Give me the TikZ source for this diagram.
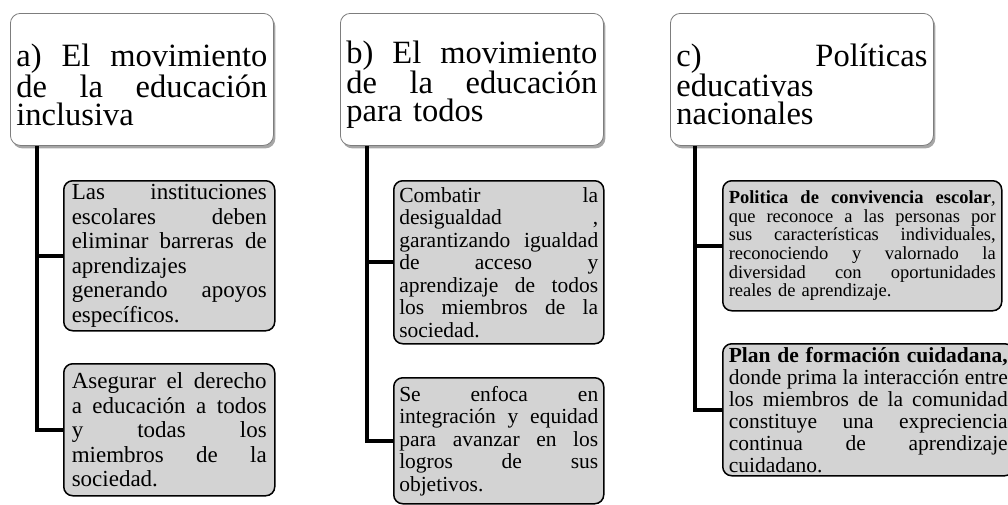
\documentclass[tikz,border=0pt]{standalone}
\usepackage{fontspec}
\setmainfont{Liberation Serif}
\usetikzlibrary{shadows}
\setlength{\parindent}{0pt}
\setlength{\lineskiplimit}{-100pt}

\definecolor{leafgray}{RGB}{211,211,211}
\definecolor{edgegray}{RGB}{125,125,125}

% one justified line of a box
\newcommand{\jl}[1]{\leavevmode\hbox to\linewidth{\spaceskip=.25em plus 1fil\relax #1}}
% pushes the header text a bit down
\newcommand{\hdtop}{\rule{0pt}{33pt}}

\tikzset{
	headbox/.style={draw=edgegray,line width=0.8pt,fill=white,rounded corners=10pt,
		drop shadow={shadow xshift=2pt,shadow yshift=-3pt,opacity=0.35,fill=black},
		anchor=north west,text width=251pt,inner xsep=6pt,inner ysep=0pt,
		minimum height=132pt,font=\fontsize{32.5}{28}\selectfont},
	leafbox/.style={draw=black,line width=1.5pt,fill=leafgray,rounded corners=9pt,
		anchor=north west,inner ysep=1pt},
	leafa/.style={leafbox,text width=195pt,inner xsep=8pt,font=\fontsize{23}{24.5}\selectfont},
	leafb/.style={leafbox,text width=199pt,inner xsep=5.5pt,font=\fontsize{21.5}{22.5}\selectfont},
	leafc/.style={leafbox,text width=267pt,inner xsep=6pt,font=\fontsize{18.5}{18.6}\selectfont},
	leafd/.style={leafbox,text width=279pt,inner xsep=6pt,font=\fontsize{21.5}{22}\selectfont},
	branch/.style={line width=4pt,black}
}

\begin{document}
\begin{tikzpicture}[x=1pt,y=-1pt]
	\useasboundingbox (0,0) rectangle (1008,504);

	%headers
	\node[headbox] (hda) at ( 10,13) {\hdtop\jl{a) El movimiento}\\ \jl{de la educación}\\ inclusiva};
	\node[headbox] (hdb) at (340,13) {\hdtop\jl{b) El movimiento}\\ \jl{de la educación}\\ para todos};
	\node[headbox] (hdc) at (670,13) {\hdtop\jl{c) Políticas}\\ educativas\\ nacionales};

	%column a
	\node[leafa,minimum height=150pt] (a1) at (63,180) {\jl{Las instituciones}\\ \jl{escolares deben}\\
		\jl{eliminar barreras de}\\ aprendizajes\\ \jl{generando apoyos}\\ específicos.};
	\node[leafa,minimum height=132pt] (a2) at (63,363) {\jl{Asegurar el derecho}\\ \jl{a educación a todos}\\
		\jl{y todas los}\\ \jl{miembros de la}\\ sociedad.};

	%column b
	\node[leafb,minimum height=163pt] (b1) at (393,180) {\jl{Combatir la}\\ \jl{desigualdad ,}\\
		\jl{garantizando igualdad}\\ \jl{de acceso y}\\ \jl{aprendizaje de todos}\\
		\jl{los miembros de la}\\ sociedad.};
	\node[leafb,minimum height=126pt] (b2) at (393,377) {\jl{Se enfoca en}\\ \jl{integración y equidad}\\
		\jl{para avanzar en los}\\ \jl{logros de sus}\\ objetivos.};

	%column c
	\node[leafc,minimum height=130pt] (c1) at (722,180) {\jl{\textbf{Politica de convivencia escolar},}\\
		\jl{que reconoce a las personas por}\\ \jl{sus características individuales,}\\
		\jl{reconociendo y valornado la}\\ \jl{diversidad con oportunidades}\\ reales de aprendizaje.};
	\node[leafd,minimum height=132pt] (c2) at (722,343) {\jl{\textbf{Plan de formación cuidadana,}}\\
		\jl{donde prima la interacción entre}\\ \jl{los miembros de la comunidad}\\
		\jl{constituye una expreciencia}\\ \jl{continua de aprendizaje}\\ cuidadano.};

	%connectors
	\coordinate (ta) at ([xshift=27pt]hda.south west);
	\coordinate (tb) at ([xshift=27pt]hdb.south west);
	\coordinate (tc) at ([xshift=25pt]hdc.south west);
	\draw[branch] (ta) |- (a1.west);
	\draw[branch] (ta) |- (a2.west);
	\draw[branch] (tb) |- (b1.west);
	\draw[branch] (tb) |- (b2.west);
	\draw[branch] (tc) |- (c1.west);
	\draw[branch] (tc) |- (c2.west);
\end{tikzpicture}
\end{document}
